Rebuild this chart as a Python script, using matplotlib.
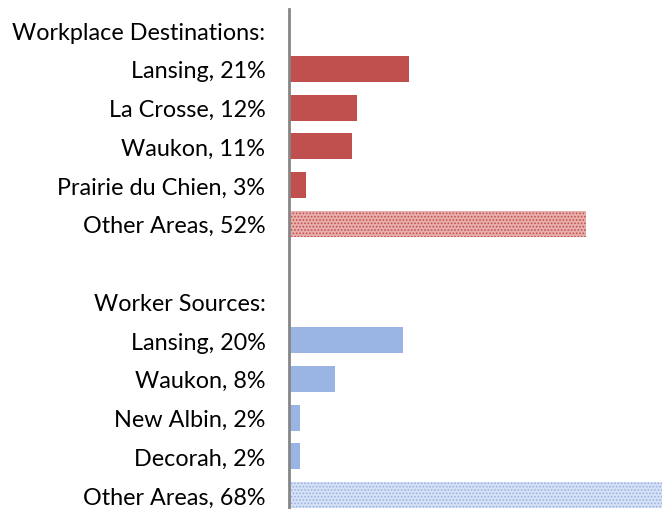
import matplotlib.pyplot as plt
import numpy as np

# commuting flows
dest_places = ['Lansing', 'La Crosse', 'Waukon', 'Prairie du Chien', 'Other Areas']
dest_pct = [21, 12, 11, 3, 52]
src_places = ['Lansing', 'Waukon', 'New Albin', 'Decorah', 'Other Areas']
src_pct = [20, 8, 2, 2, 68]

red = '#C0504D'
blue = '#9AB4E4'

plt.rcParams['hatch.linewidth'] = 0.8

fig = plt.figure(figsize=(6.62, 5.10), dpi=100)
ax = fig.add_axes([0.4366, 0.0, 0.5634, 0.98])

labels = ['Workplace Destinations:']
labels += ['%s, %d%%' % (p, v) for p, v in zip(dest_places, dest_pct)]
labels += ['', 'Worker Sources:']
labels += ['%s, %d%%' % (p, v) for p, v in zip(src_places, src_pct)]

y_dest = np.arange(1, 1 + len(dest_pct))
y_src = np.arange(8, 8 + len(src_pct))
h = 0.67

# solid bars for named places, patterned bar for "Other Areas"
for y, v in zip(y_dest[:-1], dest_pct[:-1]):
    ax.barh(y, v, height=h, color=red)
ax.barh(y_dest[-1], dest_pct[-1], height=h, color='#E8AFAD', edgecolor=red,
        hatch='.....', linewidth=0)
for y, v in zip(y_src[:-1], src_pct[:-1]):
    ax.barh(y, v, height=h, color=blue)
ax.barh(y_src[-1], src_pct[-1], height=h, color='#D6E1F6', edgecolor=blue,
        hatch='.....', linewidth=0)

ax.set_yticks(np.arange(len(labels)))
ax.set_yticklabels(labels, fontsize=16.8, family=['Lato', 'DejaVu Sans'])
ax.tick_params(axis='y', length=0, pad=17)
ax.set_xticks([])
ax.set_xlim(0, 65.4)
ax.set_ylim(12.36, -0.54)
for s in ['top', 'right', 'bottom']:
    ax.spines[s].set_visible(False)
ax.spines['left'].set_color('#868686')
ax.spines['left'].set_linewidth(2)

fig.savefig('out.png', dpi=100)
